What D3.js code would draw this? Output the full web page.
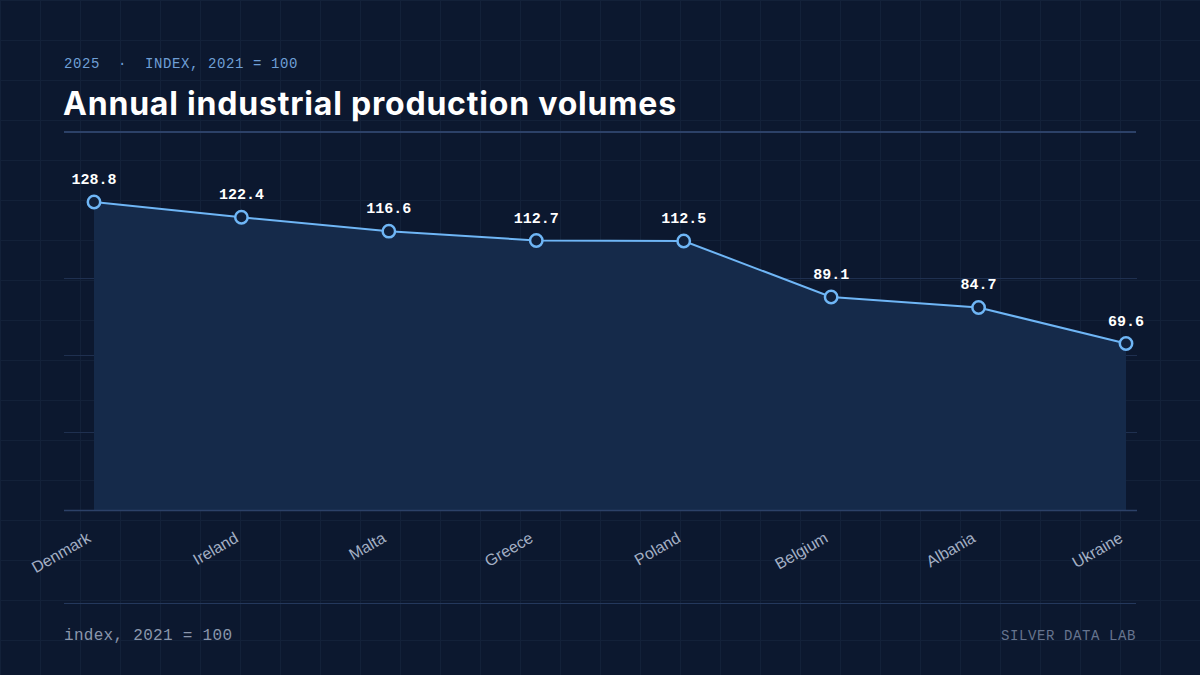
<!DOCTYPE html>
<html>
<head>
<meta charset="utf-8">
<script src="https://cdn.jsdelivr.net/npm/d3@7"></script>
<style>
  html, body { margin: 0; padding: 0; background: #0c182f; }
  svg { display: block; }
</style>
</head>
<body>
<svg></svg>
<script>
// chart data
const countries = ["Denmark", "Ireland", "Malta", "Greece", "Poland", "Belgium", "Albania", "Ukraine"];
const values = [128.8, 122.4, 116.6, 112.7, 112.5, 89.1, 84.7, 69.6];
const subtitle = "2025  ·  INDEX, 2021 = 100";
const title = "Annual industrial production volumes";
const footNote = "index, 2021 = 100";
const credit = "SILVER DATA LAB";

const width = 1200;
const height = 675;

const svg = d3.select("svg")
    .attr("width", width)
    .attr("height", height);

const mono = "'Liberation Mono', 'DejaVu Sans Mono', monospace";
const sans = "'Liberation Sans', Arial, sans-serif";

// background + faint 40px grid
svg.append("rect")
    .attr("width", width)
    .attr("height", height)
    .attr("fill", "#0c182f");

const bgGrid = svg.append("g")
    .attr("stroke", "#132139")
    .attr("stroke-width", 1);
d3.range(0, width + 1, 40).forEach(x => {
  bgGrid.append("line").attr("x1", x + 0.5).attr("x2", x + 0.5).attr("y1", 0).attr("y2", height);
});
d3.range(0, height + 1, 40).forEach(y => {
  bgGrid.append("line").attr("x1", 0).attr("x2", width).attr("y1", y + 0.5).attr("y2", y + 0.5);
});

// header
svg.append("text")
    .attr("x", 64)
    .attr("y", 68)
    .attr("font-family", mono)
    .attr("font-size", "14px")
    .attr("letter-spacing", "0.6px")
    .attr("fill", "#6f9fd6")
    .style("white-space", "pre")
    .text(subtitle);

svg.append("text")
    .attr("x", 63)
    .attr("y", 115)
    .attr("font-family", "Inter, 'Liberation Sans', sans-serif")
    .attr("font-weight", "bold")
    .attr("font-size", "32px")
    .attr("letter-spacing", "0.8px")
    .attr("fill", "#ffffff")
    .text(title);

svg.append("line")
    .attr("x1", 64).attr("x2", 1136)
    .attr("y1", 132).attr("y2", 132)
    .attr("stroke", "#2c4168")
    .attr("stroke-width", 2);

// scales
const marginLeft = 94, marginRight = 1126;
const baseY = 510, topY = 202;

const x = d3.scalePoint()
    .domain(countries)
    .range([marginLeft, marginRight]);

const yMax = d3.max(values);
const y = d3.scaleLinear()
    .domain([0, yMax])
    .range([baseY, topY]);

const data = countries.map((c, i) => ({ country: c, value: values[i] }));

// horizontal gridlines (quarters of the max, top one left out)
const yTicks = d3.range(0, 4).map(i => i * yMax / 4);
svg.append("g")
  .selectAll("line")
  .data(yTicks.filter(d => d > 0))
  .enter().append("line")
    .attr("x1", 64).attr("x2", 1137)
    .attr("y1", d => Math.round(y(d)) - 0.5)
    .attr("y2", d => Math.round(y(d)) - 0.5)
    .attr("stroke", "#1f3050")
    .attr("stroke-width", 1);

// area under line
const area = d3.area()
    .x(d => x(d.country))
    .y0(baseY)
    .y1(d => y(d.value));

svg.append("path")
    .datum(data)
    .attr("d", area)
    .attr("fill", "#152a4a");

// baseline
svg.append("line")
    .attr("x1", 64).attr("x2", 1137)
    .attr("y1", baseY + 0.5).attr("y2", baseY + 0.5)
    .attr("stroke", "#2c4168")
    .attr("stroke-width", 1.5);

// line
const line = d3.line()
    .x(d => x(d.country))
    .y(d => y(d.value));

svg.append("path")
    .datum(data)
    .attr("d", line)
    .attr("fill", "none")
    .attr("stroke", "#6fb6f6")
    .attr("stroke-width", 2);

// points
svg.selectAll(".dot")
    .data(data)
    .enter().append("circle")
    .attr("class", "dot")
    .attr("cx", d => x(d.country))
    .attr("cy", d => y(d.value))
    .attr("r", 6.2)
    .attr("fill", "#10203b")
    .attr("stroke", "#6fb6f6")
    .attr("stroke-width", 2.5);

// value labels
svg.selectAll(".val")
    .data(data)
    .enter().append("text")
    .attr("class", "val")
    .attr("x", d => x(d.country))
    .attr("y", d => y(d.value) - 18)
    .attr("text-anchor", "middle")
    .attr("font-family", mono)
    .attr("font-weight", "bold")
    .attr("font-size", "15px")
    .attr("fill", "#ffffff")
    .text(d => d.value.toFixed(1));

// x axis labels, rotated
svg.selectAll(".xlab")
    .data(countries)
    .enter().append("text")
    .attr("class", "xlab")
    .attr("transform", d => `translate(${x(d) - 2}, ${baseY + 31}) rotate(-30)`)
    .attr("text-anchor", "end")
    .attr("font-family", sans)
    .attr("font-size", "16px")
    .attr("fill", "#a3afc4")
    .text(d => d);

// footer
svg.append("line")
    .attr("x1", 64).attr("x2", 1136)
    .attr("y1", 603.5).attr("y2", 603.5)
    .attr("stroke", "#24385c")
    .attr("stroke-width", 1);

svg.append("text")
    .attr("x", 64)
    .attr("y", 640)
    .attr("font-family", mono)
    .attr("font-size", "16px")
    .attr("letter-spacing", "0.3px")
    .attr("fill", "#8a96ab")
    .text(footNote);

svg.append("text")
    .attr("x", 1136)
    .attr("y", 640)
    .attr("text-anchor", "end")
    .attr("font-family", mono)
    .attr("font-size", "14px")
    .attr("letter-spacing", "0.6px")
    .attr("fill", "#66748e")
    .text(credit);
</script>
</body>
</html>
